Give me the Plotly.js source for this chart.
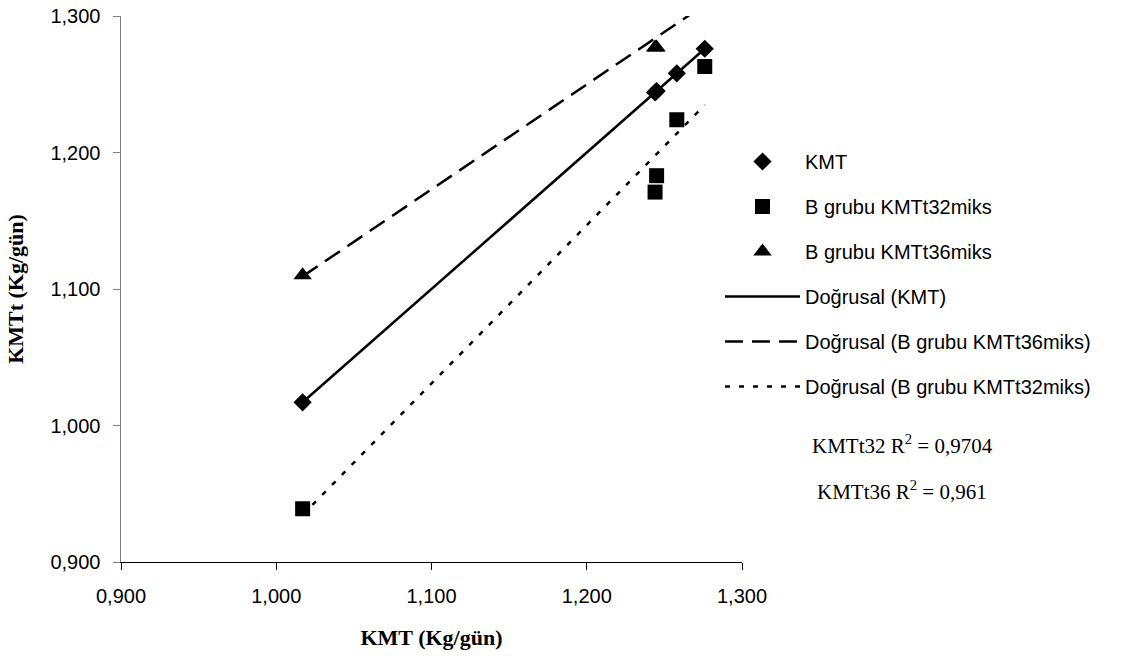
<!DOCTYPE html>
<html>
<head>
<meta charset="utf-8">
<script src="https://cdn.plot.ly/plotly-3.0.1.min.js"></script>
<style>html,body{margin:0;padding:0;background:#fff;}</style>
</head>
<body>
<div id="chart" style="width:1122px;height:656px;"></div>
<script>
// ---- data ----
const kmtX = [1.017, 1.244, 1.245, 1.258, 1.276];
const kmtY = [1.017, 1.244, 1.245, 1.258, 1.276];
const t32Y = [0.939, 1.171, 1.183, 1.224, 1.263];
const t36Y = [1.110, 1.277, 1.277, 1.308, 1.308];
const tickVals = [0.9, 1.0, 1.1, 1.2, 1.3];
const tickText = ['0,900', '1,000', '1,100', '1,200', '1,300'];
const seriesNames = ['KMT', 'B grubu KMTt32miks', 'B grubu KMTt36miks'];
const trendNames = ['Doğrusal (KMT)', 'Doğrusal (B grubu KMTt36miks)', 'Doğrusal (B grubu KMTt32miks)'];
const r2Labels = ['KMTt32 R<sup>2</sup> = 0,9704', 'KMTt36 R<sup>2</sup> = 0,961'];

// least-squares trendline (as the spreadsheet's "linear trendline")
function trend(x, y) {
  const n = x.length;
  const mx = x.reduce((a, b) => a + b, 0) / n;
  const my = y.reduce((a, b) => a + b, 0) / n;
  let sxy = 0, sxx = 0;
  for (let i = 0; i < n; i++) { sxy += (x[i] - mx) * (y[i] - my); sxx += (x[i] - mx) ** 2; }
  const b = sxy / sxx, a = my - b * mx;
  const x0 = Math.min(...x), x1 = Math.max(...x);
  return { x: [x0, x1], y: [a + b * x0, a + b * x1] };
}

const tK = trend(kmtX, kmtY);
const t36 = trend(kmtX, t36Y);
const t32 = trend(kmtX, t32Y);

const black = '#000000';
let g = 0;
const traces = [
  { x: kmtX, y: kmtY, name: seriesNames[0], mode: 'markers', marker: { symbol: 'diamond', size: 14, color: black } },
  { x: kmtX, y: t32Y, name: seriesNames[1], mode: 'markers', marker: { symbol: 'square', size: 15, color: black } },
  { x: kmtX, y: t36Y, name: seriesNames[2], mode: 'markers', marker: { symbol: 'triangle-up', size: 16, color: black } },
  { x: tK.x, y: tK.y, name: trendNames[0], mode: 'lines', line: { color: black, width: 2.5 } },
  { x: t36.x, y: t36.y, name: trendNames[1], mode: 'lines', line: { color: black, width: 2.5, dash: '18px,9px' } },
  { x: t32.x, y: t32.y, name: trendNames[2], mode: 'lines', line: { color: black, width: 2.5, dash: '5px,9px' } }
].map(t => Object.assign(t, { type: 'scatter', cliponaxis: true, legendgroup: 'g' + (g++), hoverinfo: 'x+y' }));

const axisFont = { family: 'Liberation Sans, Arial, sans-serif', size: 20, color: black };
const titleFont = { family: 'Liberation Serif, Times New Roman, serif', size: 22, color: black, weight: 'bold' };

const layout = {
  width: 1122, height: 656,
  margin: { l: 121, r: 380, t: 16, b: 94, pad: 0 },
  paper_bgcolor: '#ffffff', plot_bgcolor: '#ffffff',
  showlegend: true,
  legend: {
    x: (720 - 121) / 621, xanchor: 'left',
    y: (562 - 142) / 546, yanchor: 'top',
    font: { family: 'Liberation Sans, Arial, sans-serif', size: 20, color: black },
    itemwidth: 75, traceorder: 'grouped', tracegroupgap: 16,
    bgcolor: 'rgba(0,0,0,0)', borderwidth: 0
  },
  xaxis: {
    range: [0.9, 1.3], tickvals: tickVals, ticktext: tickText,
    showgrid: false, zeroline: false, showline: true, linecolor: black, linewidth: 1,
    ticks: 'outside', ticklen: 7, tickcolor: black, tickwidth: 1,
    tickfont: axisFont, ticklabelstandoff: 9,
    title: { text: 'KMT (Kg/gün)', font: titleFont, standoff: 23 }
  },
  yaxis: {
    range: [0.9, 1.3], tickvals: tickVals, ticktext: tickText,
    showgrid: false, zeroline: false, showline: true, linecolor: '#808080', linewidth: 1.5,
    ticks: 'outside', ticklen: 7, tickcolor: '#808080', tickwidth: 1,
    tickfont: axisFont, ticklabelstandoff: 8,
    title: { text: 'KMTt (Kg/gün)', font: titleFont, standoff: 20 }
  },
  annotations: [
    { xref: 'paper', yref: 'paper', x: (902 - 121) / 621, y: (562 - 444) / 546, xanchor: 'center', yanchor: 'middle',
      text: r2Labels[0], showarrow: false, font: { family: 'Liberation Serif, Times New Roman, serif', size: 21, color: black } },
    { xref: 'paper', yref: 'paper', x: (902 - 121) / 621, y: (562 - 490) / 546, xanchor: 'center', yanchor: 'middle',
      text: r2Labels[1], showarrow: false, font: { family: 'Liberation Serif, Times New Roman, serif', size: 21, color: black } }
  ]
};

Plotly.newPlot('chart', traces, layout, { staticPlot: true, displayModeBar: false });
</script>
</body>
</html>
